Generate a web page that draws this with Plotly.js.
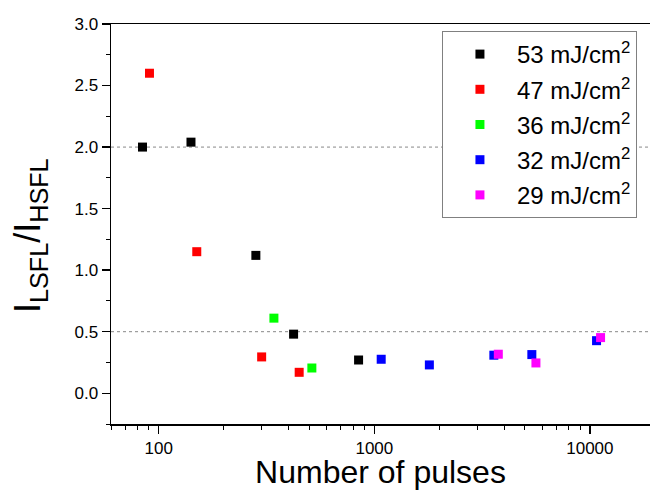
<!DOCTYPE html>
<html>
<head>
<meta charset="utf-8">
<script src="https://cdn.plot.ly/plotly-3.0.1.min.js"></script>
<style>html,body{margin:0;padding:0;background:#fff;}#chart{width:650px;height:490px;}</style>
</head>
<body>
<div id="chart"></div>
<script>
// Series: fluence label, number of pulses, ratio I_LSFL/I_HSFL
var seriesNames = ["53 mJ/cm<sup>2</sup>", "47 mJ/cm<sup>2</sup>", "36 mJ/cm<sup>2</sup>", "32 mJ/cm<sup>2</sup>", "29 mJ/cm<sup>2</sup>"];
var seriesColors = ["#000000", "#ff0000", "#00ff00", "#0000ff", "#ff00ff"];

var pulses53 = [84, 141, 282, 422, 845];
var ratio53  = [2.00, 2.04, 1.12, 0.48, 0.27];

var pulses47 = [90.5, 150, 300, 448];
var ratio47  = [2.60, 1.15, 0.295, 0.17];

var pulses36 = [342, 513];
var ratio36  = [0.61, 0.205];

var pulses32 = [1076, 1800, 3585, 5380, 10740];
var ratio32  = [0.276, 0.23, 0.309, 0.314, 0.427];

var pulses29 = [3760, 5620, 11210];
var ratio29  = [0.317, 0.246, 0.452];

var xData = [pulses53, pulses47, pulses36, pulses32, pulses29];
var yData = [ratio53, ratio47, ratio36, ratio32, ratio29];

var yTickVals = [0, 0.5, 1, 1.5, 2, 2.5, 3];
var xTickVals = [100, 1000, 10000];
var refLines = [0.5, 2.0];
var xTitle = "Number of pulses";
var yTitle = "I<sub>LSFL</sub>/I<sub>HSFL</sub>";

var FONT = "Liberation Sans, Arial, sans-serif";

var traces = xData.map(function (xs, i) {
  return {
    x: xs, y: yData[i], type: "scatter", mode: "markers",
    name: seriesNames[i], legendgroup: "g" + i,
    marker: { symbol: "square", size: 9, color: seriesColors[i], line: { width: 0 } }
  };
});

var shapes = refLines.map(function (v) {
  return { type: "line", xref: "paper", x0: 0, x1: 1, yref: "y", y0: v, y1: v,
           line: { color: "#888888", width: 1, dash: "dot" }, layer: "below" };
});

var layout = {
  width: 650, height: 490,
  margin: { l: 111, r: 0, t: 24, b: 66 },
  paper_bgcolor: "#ffffff", plot_bgcolor: "#ffffff",
  font: { family: FONT, color: "#000000", size: 17 },
  showlegend: true,
  legend: {
    x: 0.614, y: 0.9825, xanchor: "left", yanchor: "top",
    bgcolor: "#ffffff", bordercolor: "#808080", borderwidth: 1,
    font: { family: FONT, size: 24, color: "#000000" },
    itemwidth: 64, traceorder: "grouped", tracegroupgap: 1
  },
  xaxis: {
    type: "log", range: [Math.log10(60), 4.279],
    tickvals: xTickVals, tickformat: "d",
    ticks: "outside", ticklen: 8, tickwidth: 1.3, tickcolor: "#000",
    minor: { ticks: "outside", ticklen: 4, tickwidth: 1, tickcolor: "#000", dtick: "D1", showgrid: false },
    showline: true, linecolor: "#000", linewidth: 1.5, mirror: true,
    showgrid: false, zeroline: false,
    tickfont: { family: FONT, size: 17, color: "#000" },
    title: { text: xTitle, font: { family: FONT, size: 32, color: "#000" }, standoff: 10 }
  },
  yaxis: {
    range: [-0.25, 3.0], tickvals: yTickVals, tickformat: ".1f",
    ticks: "outside", ticklen: 8, tickwidth: 1.3, tickcolor: "#000",
    minor: { ticks: "outside", ticklen: 4, tickwidth: 1, tickcolor: "#000", dtick: 0.25, showgrid: false },
    showline: true, linecolor: "#000", linewidth: 1.5, mirror: false,
    showgrid: false, zeroline: false,
    tickfont: { family: FONT, size: 17, color: "#000" }
  },
  annotations: [{
    text: yTitle, textangle: -90, showarrow: false,
    xref: "paper", x: 0, xanchor: "center", xshift: -81,
    yref: "paper", y: 0.47, yanchor: "middle",
    font: { family: FONT, size: 36, color: "#000" }
  }],
  shapes: shapes
};

Plotly.newPlot("chart", traces, layout, { displayModeBar: false, staticPlot: true });
</script>
</body>
</html>
